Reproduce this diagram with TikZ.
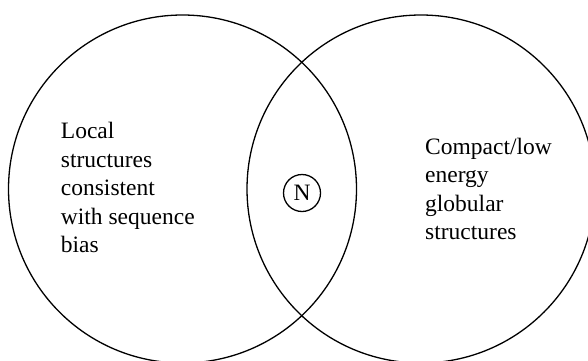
\documentclass[tikz,border=0pt]{standalone}
\usepackage{fontspec}
\setmainfont{Liberation Serif}
\tikzset{
  venn/.style={draw=black, line width=1.3pt},
  label/.style={anchor=north west, inner sep=0pt, align=left, font=\fontsize{23.5}{28.5}\selectfont},
  nmark/.style={draw=black, line width=1.3pt, circle, minimum size=37pt, inner sep=0pt, font=\fontsize{23.5}{28.5}\selectfont}
}
\begin{document}
\begin{tikzpicture}[x=1pt,y=1pt]
\useasboundingbox (0,0) rectangle (588,360);
\clip (0,0) rectangle (588,360);
\fill[white] (0,0) rectangle (588,360);
\coordinate (cl) at (182.5,171);
\coordinate (cr) at (421,171);
\draw[venn] (cl) circle[radius=174];
\draw[venn] (cr) circle[radius=174];
\node[label] (lt) at (60.7,237.7) {Local\\structures\\consistent\\with sequence\\bias};
\node[label] (rt) at (425,222.2) {Compact/low\\energy\\globular\\structures};
\node[nmark] (n) at (302,167) {N};
\end{tikzpicture}
\end{document}
